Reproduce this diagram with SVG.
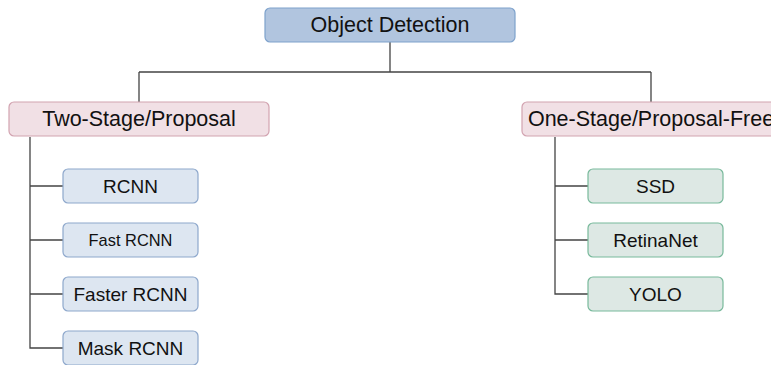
<svg xmlns="http://www.w3.org/2000/svg" width="771" height="365" viewBox="0 0 771 365">
<style>
text{font-family:"Liberation Sans",Arial,sans-serif;fill:#111;text-anchor:middle;dominant-baseline:central}
.root{fill:#b1c5df;stroke:#7ea2cc;stroke-width:1.2}
.mid{fill:#f1e0e5;stroke:#d2a3b0;stroke-width:1.2}
.lc{fill:#dde6f1;stroke:#8ea8cc;stroke-width:1.2}
.rc{fill:#dde8e4;stroke:#78b99b;stroke-width:1.2}
.ln{fill:none;stroke:#444;stroke-width:1.3}
.big{font-size:21.5px}
.sm{font-size:19px}
</style>
<g id="connectors">
<path class="ln" d="M390,42V72M139,72H651M139,72V102M651,72V102"/>
<path class="ln" d="M30,137V348H63M30,186H63M30,240H63M30,294H63"/>
<path class="ln" d="M555,137V294H588M555,186H588M555,240H588"/>
</g>
<g id="root"><rect class="root" x="265" y="8" width="250" height="34" rx="5"/><text class="big" x="390" y="25">Object Detection</text></g>
<g id="two-stage"><rect class="mid" x="9" y="102" width="260" height="34" rx="5"/><text class="big" x="139" y="119">Two-Stage/Proposal</text></g>
<g id="one-stage"><rect class="mid" x="522" y="102" width="260" height="34" rx="5"/><text class="big" x="651" y="119">One-Stage/Proposal-Free</text></g>
<g id="rcnn"><rect class="lc" x="63" y="169" width="135" height="34" rx="5"/><text class="sm" x="130.5" y="186">RCNN</text></g>
<g id="fast-rcnn"><rect class="lc" x="63" y="223" width="135" height="34" rx="5"/><text x="130.5" y="240" font-size="16.4">Fast RCNN</text></g>
<g id="faster-rcnn"><rect class="lc" x="63" y="277" width="135" height="34" rx="5"/><text class="sm" x="130.5" y="294">Faster RCNN</text></g>
<g id="mask-rcnn"><rect class="lc" x="63" y="331" width="135" height="34" rx="5"/><text class="sm" x="130.5" y="348">Mask RCNN</text></g>
<g id="ssd"><rect class="rc" x="588" y="169" width="135" height="34" rx="5"/><text class="sm" x="655.5" y="186">SSD</text></g>
<g id="retinanet"><rect class="rc" x="588" y="223" width="135" height="34" rx="5"/><text class="sm" x="655.5" y="240">RetinaNet</text></g>
<g id="yolo"><rect class="rc" x="588" y="277" width="135" height="34" rx="5"/><text class="sm" x="655.5" y="294">YOLO</text></g>
</svg>
